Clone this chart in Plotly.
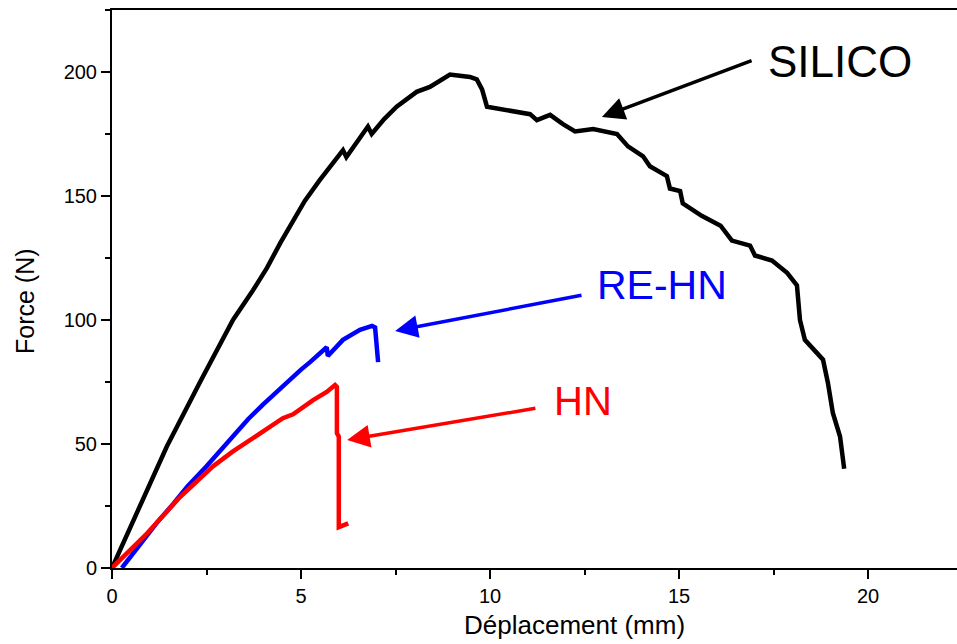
import plotly.graph_objects as go

# SILICO curve
silico_x = [0, 0.74, 1.45, 2.33, 3.2, 3.73, 4.1, 4.45, 4.71, 5.1, 5.5, 5.8, 6.11, 6.2, 6.5,
            6.77, 6.87, 7.2, 7.53, 7.8, 8.06, 8.41, 8.7, 8.94, 9.2, 9.47, 9.65, 9.79, 9.92, 10.26,
            10.7, 11.06, 11.24, 11.59, 11.93, 12.25, 12.73, 13.1, 13.36, 13.65, 14.05, 14.23,
            14.68, 14.76, 15.03, 15.1, 15.6, 16.1, 16.4, 16.88, 17.01, 17.46, 17.86, 18.12,
            18.2, 18.33, 18.65, 18.81, 18.94, 19.07, 19.26, 19.37]
silico_y = [0, 24.6, 49, 75, 100, 112, 121, 131, 138, 148, 156.5, 162.5, 168.5, 165.7, 172,
            178, 175, 181, 186, 189, 192, 194, 197, 199, 198.5, 198, 197, 193, 186, 185,
            184, 183, 180.6, 182.7, 179, 176, 177, 176, 175, 170, 166, 162,
            158, 153, 152, 147, 142, 138, 132, 130, 126, 124, 119, 114,
            100, 92, 87, 84, 74.6, 62.5, 53, 40]

# RE-HN curve
rehn_x = [0.26, 0.83, 1.2, 1.63, 2.0, 2.5, 3.2, 3.6, 4.0, 4.35, 4.71, 5.0, 5.24, 5.68, 5.71,
          6.11, 6.56, 6.88, 6.96, 7.01, 7.04]
rehn_y = [0, 11, 18.5, 26, 33, 41, 53, 60, 66, 71, 76, 80, 83, 89, 85.5,
          92, 96, 97.6, 97, 89, 83]

# HN curve
hn_x = [0, 0.93, 1.8, 2.67, 3.2, 3.73, 4.2, 4.52, 4.79, 5.32, 5.68, 5.9, 5.95, 5.95, 6.0, 6.0, 6.25]
hn_y = [0, 14, 28.6, 41, 47, 52.5, 57, 60.4, 62, 67.7, 71, 73.8, 73, 54.4, 53, 16.5, 18]

x_ticks = [0, 5, 10, 15, 20]
y_ticks = [0, 50, 100, 150, 200]

FONT = "Liberation Sans, Arial, sans-serif"

fig = go.Figure()
fig.add_trace(go.Scatter(x=silico_x, y=silico_y, mode="lines",
                         line=dict(color="black", width=4.5), name="SILICO"))
fig.add_trace(go.Scatter(x=rehn_x, y=rehn_y, mode="lines",
                         line=dict(color="#0000FF", width=4.5), name="RE-HN"))
fig.add_trace(go.Scatter(x=hn_x, y=hn_y, mode="lines",
                         line=dict(color="#FF0000", width=4.5), name="HN"))

anns = []
# labels
for txt, col, x, y, size in [("SILICO", "black", 19.26, 204.2, 44),
                             ("RE-HN", "#0000FF", 14.55, 114.3, 41),
                             ("HN", "#FF0000", 12.46, 67.3, 40)]:
    anns.append(dict(text=txt, x=x, y=y, xref="x", yref="y", showarrow=False,
                     font=dict(family=FONT, size=size, color=col),
                     xanchor="center", yanchor="middle"))
# arrows
for col, x, y, ax, ay in [("black", 12.96, 181.9, 16.96, 204.8),
                          ("#0000FF", 7.49, 95.6, 12.46, 110.1),
                          ("#FF0000", 6.22, 51.6, 11.24, 64.5)]:
    anns.append(dict(text="", x=x, y=y, ax=ax, ay=ay, xref="x", yref="y",
                     axref="x", ayref="y", showarrow=True, arrowhead=2,
                     arrowsize=1.3, arrowwidth=3.5, arrowcolor=col, standoff=0))
# axis titles
anns.append(dict(text="Déplacement (mm)", xref="paper", yref="paper",
                 x=(574 - 112) / 845, y=(568 - 625) / 558, showarrow=False,
                 xanchor="center", yanchor="middle",
                 font=dict(family=FONT, size=26, color="black")))
anns.append(dict(text="Force (N)", xref="paper", yref="paper",
                 x=(25 - 112) / 845, y=(568 - 301) / 558, showarrow=False,
                 textangle=-90, xanchor="center", yanchor="middle",
                 font=dict(family=FONT, size=25, color="black")))

fig.update_layout(
    width=957, height=644,
    margin=dict(l=112, r=0, t=10, b=76),
    plot_bgcolor="white", paper_bgcolor="white",
    showlegend=False,
    annotations=anns,
    font=dict(family=FONT, color="black"),
)
fig.update_xaxes(range=[0, 845 / 37.8], tickvals=x_ticks, ticktext=[str(v) for v in x_ticks],
                 showgrid=False, zeroline=False, showline=True, linecolor="black",
                 linewidth=2, mirror=True, ticks="outside", ticklen=9, tickwidth=2,
                 tickcolor="black", tickfont=dict(family=FONT, size=20, color="black"),
                 minor=dict(dtick=2.5, ticks="outside", ticklen=5, tickwidth=2,
                            tickcolor="black", showgrid=False))
fig.update_yaxes(range=[0, 225], tickvals=y_ticks, ticktext=[str(v) for v in y_ticks],
                 showgrid=False, zeroline=False, showline=True, linecolor="black",
                 linewidth=2, mirror=False, ticks="outside", ticklen=9, tickwidth=2,
                 tickcolor="black", tickfont=dict(family=FONT, size=20, color="black"),
                 minor=dict(dtick=25, ticks="outside", ticklen=5, tickwidth=2,
                            tickcolor="black", showgrid=False))

fig.write_html("out.html")
